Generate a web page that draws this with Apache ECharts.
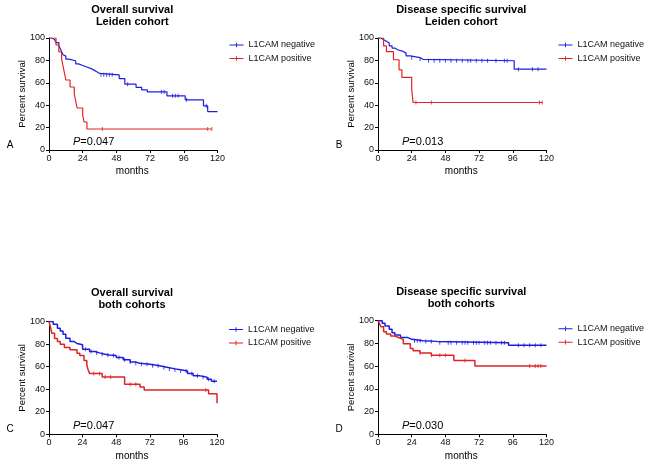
<!DOCTYPE html>
<html>
<head>
<meta charset="utf-8">
<script src="https://cdn.jsdelivr.net/npm/echarts@6/dist/echarts.min.js"></script>
<style>html,body{margin:0;padding:0;background:#fff}#c{width:648px;height:464px}</style>
</head>
<body>
<div id="c"></div>
<script>
// ---------- data ----------
const seriesNames = ['L1CAM negative', 'L1CAM positive'];
const xTickStep = 24, xMax = 120, yTickStep = 20, yMax = 100;

// A: Overall survival, Leiden cohort
const A_neg_t = [0,2,4,5,7,8,9,10,11,12,14,19,21,24,27,30,32,34,36,50,54,62,66,70,84,97,110,113,120];
const A_neg_s = [100,98.6,97.3,95.9,93.2,90.5,87.8,85.1,83.8,81.1,79.7,76.9,75.5,74.1,72.7,71.3,69.9,68.5,67.1,63.8,58.8,56,53.7,51.9,48.4,44.8,39.4,34.3,34.3];
const A_neg_c = [37,39,41,43,45,56,80,82,88,90,92,98,112];
const A_pos_t = [0,5,7,9,10,11,12,15,18,19,20,24,25,27,116];
const A_pos_s = [100,93.75,87.5,81.25,75,68.75,62.5,56.25,50,43.75,37.5,31.25,25,18.75,18.75];
const A_pos_c = [38,113,116];

// B: Disease specific survival, Leiden cohort
const B_neg_t = [0,2,4,6,8,10,12,14,18,20,23,30,32,97,120];
const B_neg_s = [100,98.5,97,95.5,93,91,89.5,88,86.5,84,82.4,81,79.7,72.2,72.2];
const B_neg_c = [24,30,36,40,44,48,52,56,60,64,66,70,74,78,84,90,92,100,110,114];
const B_pos_t = [0,4,6,11,15,17,24,25,117];
const B_pos_s = [100,92.9,87.8,80.6,71.6,64.8,53.7,42.4,42.4];
const B_pos_c = [27,38,115,117];

// C: Overall survival, both cohorts
const C_neg_t = [0,3,6,8,10,12,15,18,20,24,29,33,36,40,43,48,53,58,62,65,72,79,86,90,94,99,103,108,113,116,120];
const C_neg_s = [100,97.6,94,91.5,88.8,85.2,82.2,80.5,79.3,75.4,73.4,72.2,71,70.4,69.8,68,66,64,63,62,60.7,59,58,57.2,56.2,54,51.8,50.6,48.8,47,47];
const C_neg_c = [26,30,34,38,42,46,50,54,58,62,66,70,74,78,82,86,90,94,98,102,106,110,114,118];
const C_pos_t = [0,1,2,4,6,8,11,15,20,22,25,27,28,29,38,54,65,68,114,120];
const C_pos_s = [100,95.5,89.6,85,82.2,79.9,77,74.9,71.9,69.8,65.4,61.5,57,53.8,50.9,44.4,42,39.3,36,27.5];
const C_pos_c = [32,36,40,44,58,62,112];

// D: Disease specific survival, both cohorts
const D_neg_t = [0,3,5,8,10,12,16,21,24,32,42,93,120];
const D_neg_s = [100,97.7,95.3,92.4,89.4,87.4,85.3,83.6,82.4,81.8,80.6,78.3,78.3];
const D_neg_c = [26,28,30,34,38,44,50,52,56,60,62,64,68,70,72,76,78,80,84,88,90,100,104,108,112,116];
const D_pos_t = [0,1,2,4,6,9,12,15,18,23,25,30,38,54,69,120];
const D_pos_s = [100,97.7,94.7,90.3,88.3,86.5,85,83.6,79.8,75.5,73.6,71.5,69.5,65,60.1,60.1];
const D_pos_c = [30,38,44,48,62,108,112,114,116];

const titles = ['Overall survival\nLeiden cohort','Disease specific survival\nLeiden cohort','Overall survival\nboth cohorts','Disease specific survival\nboth cohorts'];
const pValues = ['=0.047','=0.013','=0.047','=0.030'];
const panelLetters = ['A','B','C','D'];

// ---------- layout ----------
const BLUE = '#1e1ee0', RED = '#e02424';
const FONT = '"Liberation Sans", Arial, sans-serif';
const grids = [
  {left: 49, top: 38, width: 168.5, height: 112},
  {left: 378, top: 38, width: 168.5, height: 112},
  {left: 49, top: 321.5, width: 168, height: 112.8},
  {left: 378, top: 320.7, width: 168.5, height: 113.6}
];
const panels = [
  [A_neg_t,A_neg_s,A_neg_c,A_pos_t,A_pos_s,A_pos_c],
  [B_neg_t,B_neg_s,B_neg_c,B_pos_t,B_pos_s,B_pos_c],
  [C_neg_t,C_neg_s,C_neg_c,C_pos_t,C_pos_s,C_pos_c],
  [D_neg_t,D_neg_s,D_neg_c,D_pos_t,D_pos_s,D_pos_c]
];
const lw = [1.2,1.2,1.5,1.5];

function km(t, s) { return t.map((x, i) => [x, s[i]]); }
function sAt(tt, t, s) { let v = s[0]; for (let i = 0; i < t.length; i++) if (t[i] <= tt) v = s[i]; return v; }
function cens(c, t, s) { return c.map(x => [x, sAt(x, t, s)]); }

const xAxes = [], yAxes = [], series = [], legends = [], titleOpts = [], graphics = [];
grids.forEach((g, i) => {
  const axisCommon = {
    axisLine: {show: true, onZero: false, lineStyle: {color: '#000', width: 1}},
    axisTick: {show: true, length: 3, lineStyle: {color: '#000'}},
    splitLine: {show: false},
    axisLabel: {color: '#111', fontSize: 9, fontFamily: FONT, margin: 4}
  };
  xAxes.push(Object.assign({type: 'value', gridIndex: i, min: 0, max: xMax, interval: xTickStep}, axisCommon));
  yAxes.push(Object.assign({type: 'value', gridIndex: i, min: 0, max: yMax, interval: yTickStep}, axisCommon));
  const [nt, ns, nc, pt, ps, pc] = panels[i];
  series.push({type: 'line', name: seriesNames[0], xAxisIndex: i, yAxisIndex: i, step: 'end', showSymbol: false, symbol: 'none', data: km(nt, ns), lineStyle: {color: BLUE, width: lw[i]}, itemStyle: {color: BLUE}, z: 3, animation: false});
  series.push({type: 'line', name: seriesNames[1], xAxisIndex: i, yAxisIndex: i, step: 'end', showSymbol: false, symbol: 'none', data: km(pt, ps), lineStyle: {color: RED, width: lw[i]}, itemStyle: {color: RED}, z: 3, animation: false});
  series.push({type: 'scatter', name: 'cn' + i, xAxisIndex: i, yAxisIndex: i, symbol: 'rect', symbolSize: [1, 4], data: cens(nc, nt, ns), itemStyle: {color: BLUE}, silent: true, animation: false});
  series.push({type: 'scatter', name: 'cp' + i, xAxisIndex: i, yAxisIndex: i, symbol: 'rect', symbolSize: [1, 4], data: cens(pc, pt, ps), itemStyle: {color: RED}, silent: true, animation: false});

  const right = g.left + g.width;
  legends.push({
    data: [
      {name: seriesNames[0], itemStyle: {color: BLUE}},
      {name: seriesNames[1], itemStyle: {color: RED}}
    ],
    orient: 'vertical', left: right + 12, top: g.top + (i < 2 ? 1 : 2), padding: 0,
    itemWidth: 14, itemHeight: 5, itemGap: 1.5,
    icon: 'path://M0,4.5L15,4.5L15,5.5L0,5.5Z M7,2.5L8,2.5L8,7.5L7,7.5Z',
    textStyle: {fontSize: 9, fontFamily: FONT, color: '#111', lineHeight: 12},
    selectedMode: false
  });
  const cx = g.left + g.width / 2 - 1;
  titleOpts.push({
    text: titles[i], left: cx, top: g.top - 34.5, textAlign: 'center', padding: 0,
    textStyle: {fontSize: 11, fontWeight: 'bold', fontFamily: FONT, color: '#000', lineHeight: 12}
  });
  graphics.push({
    type: 'text', x: g.left + 24, y: g.top + g.height - 8.5,
    style: {text: '{i|P}' + pValues[i], fill: '#000', font: '11px ' + FONT, textVerticalAlign: 'middle',
      rich: {i: {fontStyle: 'italic', fontSize: 11, fontFamily: FONT, fill: '#000'}}}
  });
  graphics.push({
    type: 'text', x: g.left - 39, y: g.top + g.height - 5,
    style: {text: panelLetters[i], fill: '#000', font: '10px ' + FONT, textAlign: 'center', textVerticalAlign: 'middle'}
  });
  graphics.push({
    type: 'text', x: g.left - 26.5, y: g.top + g.height / 2, rotation: Math.PI / 2,
    style: {text: 'Percent survival', fill: '#000', font: '9.5px ' + FONT, textAlign: 'center', textVerticalAlign: 'middle'}
  });
  graphics.push({
    type: 'text', x: cx, y: g.top + g.height + 21.5,
    style: {text: 'months', fill: '#000', font: '10px ' + FONT, textAlign: 'center', textVerticalAlign: 'middle'}
  });
});

const chart = echarts.init(document.getElementById('c'), null, {renderer: 'canvas'});
chart.setOption({
  backgroundColor: '#fff',
  animation: false,
  title: titleOpts,
  legend: legends,
  grid: grids,
  xAxis: xAxes,
  yAxis: yAxes,
  series: series,
  graphic: graphics
});
</script>
</body>
</html>
